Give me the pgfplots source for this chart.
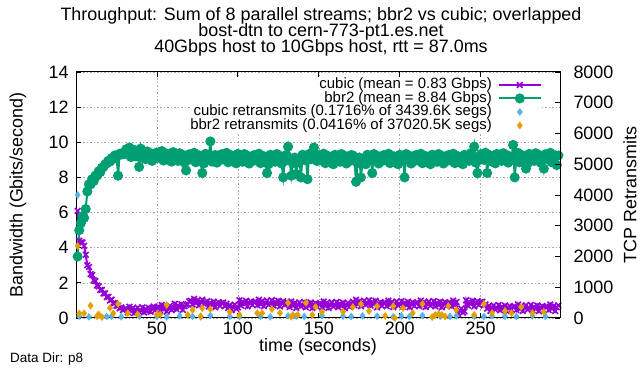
\documentclass[border=0pt]{standalone}
\usepackage{fontspec}
\setmainfont{Liberation Sans}
\usepackage{pgfplots}
\pgfplotsset{compat=1.18}
\definecolor{cubicc}{RGB}{148,0,211}
\definecolor{bbrc}{RGB}{0,158,115}
\definecolor{cretc}{RGB}{86,180,233}
\definecolor{bretc}{RGB}{230,159,0}
\begin{document}
\begin{tikzpicture}
\useasboundingbox (0,0) rectangle (641bp,371bp);
\begin{axis}[
  at={(76bp,53bp)}, anchor=south west, scale only axis,
  width=484bp, height=246bp,
  xmin=0, xmax=299, ymin=0, ymax=14,
  xtick={50,100,150,200,250}, ytick={0,2,4,6,8,10,12,14},
  xtick pos=both, xticklabel pos=lower, ytick pos=left,
  grid=major,
  grid style={gray!70, line width=0.6bp, dash pattern=on 1.5bp off 2bp},
  axis line style={line width=1bp},
  tick style={black, line width=0.8bp}, major tick length=5bp,
  ticklabel style={font=\fontsize{18}{18}\selectfont},
  yticklabel style={xshift=-4bp},
  /pgf/number format/assume math mode=true,
  clip=false,
  legend cell align=right, legend plot pos=right,
  legend image code/.code={\draw[mark repeat=2,mark phase=2,#1] plot coordinates {(0bp,0bp) (21bp,0bp) (42bp,0bp)};},
  legend style={at={(1,1)}, anchor=north east, xshift=-18bp, yshift=-6bp,
    draw=none, fill=white, inner sep=0pt, column sep=6bp, row sep=0pt,
    font=\fontsize{15}{15}\selectfont,
    nodes={inner sep=0pt, text height=10.5bp, text depth=3bp}},
]
\addplot[color=cubicc, line width=2bp, mark=x, mark size=4bp, mark options={line width=1.6bp}] coordinates {
(1,6.1)(2,4.4)(3,4.3)(4,4.3)(5,4.1)(6,3.6)(7,3.0)(8,2.9)(9,2.5)(10,2.45)(11,2.15)(12,2.1)(13,1.85)(14,1.8)(15,1.6)(16,1.6)(17,1.4)(18,1.4)(19,1.2)(20,1.2)
(21,1.0)(22,1.05)(23,0.85)(24,0.85)(25,0.7)(26,0.7)(27,0.55)(28,0.6)(29,0.45)(30,0.5)
(31,0.53)(32,0.32)(33,0.64)(34,0.40)(35,0.56)(36,0.27)(37,0.48)(38,0.59)(39,0.35)(40,0.43)
(41,0.61)(42,0.31)(43,0.51)(44,0.39)(45,0.58)(46,0.36)(47,0.57)(48,0.65)(49,0.44)(50,0.60)
(51,0.63)(52,0.42)(53,0.74)(54,0.50)(55,0.66)(56,0.37)(57,0.58)(58,0.69)(59,0.45)(60,0.53)
(61,0.81)(62,0.51)(63,0.71)(64,0.59)(65,0.78)(66,0.46)(67,0.67)(68,0.75)(69,0.79)(70,0.95)
(71,0.98)(72,0.77)(73,1.09)(74,0.85)(75,1.01)(76,0.72)(77,0.93)(78,1.04)(79,0.80)(80,0.88)
(81,0.96)(82,0.66)(83,0.86)(84,0.74)(85,0.93)(86,0.61)(87,0.82)(88,0.90)(89,0.69)(90,0.85)
(91,0.88)(92,0.67)(93,0.81)(94,0.57)(95,0.73)(96,0.44)(97,0.65)(98,0.76)(99,0.52)(100,0.60)
(101,1.01)(102,0.71)(103,0.91)(104,0.79)(105,0.98)(106,0.66)(107,0.87)(108,0.95)(109,0.74)(110,0.90)
(111,0.93)(112,0.72)(113,1.04)(114,0.80)(115,0.96)(116,0.67)(117,0.88)(118,0.99)(119,0.75)(120,0.83)
(121,1.01)(122,0.71)(123,0.91)(124,0.79)(125,0.98)(126,0.66)(127,0.87)(128,0.95)(129,0.74)(130,0.90)
(131,0.83)(132,0.62)(133,0.94)(134,0.70)(135,0.86)(136,0.57)(137,0.78)(138,0.89)(139,0.65)(140,0.73)
(141,0.91)(142,0.61)(143,0.81)(144,0.69)(145,0.88)(146,0.56)(147,0.77)(148,0.85)(149,0.64)(150,0.80)
(151,0.83)(152,0.62)(153,0.94)(154,0.70)(155,0.86)(156,0.57)(157,0.78)(158,0.89)(159,0.65)(160,0.73)
(161,0.91)(162,0.61)(163,0.81)(164,0.69)(165,0.88)(166,0.56)(167,0.77)(168,0.85)(169,0.64)(170,0.80)
(171,0.93)(172,0.72)(173,1.04)(174,0.80)(175,0.96)(176,0.67)(177,0.88)(178,0.99)(179,0.75)(180,0.83)
(181,1.01)(182,0.71)(183,0.91)(184,0.79)(185,0.98)(186,0.61)(187,0.82)(188,0.90)(189,0.69)(190,0.85)
(191,0.88)(192,0.67)(193,0.99)(194,0.75)(195,0.91)(196,0.62)(197,0.83)(198,0.94)(199,0.70)(200,0.78)
(201,0.96)(202,0.66)(203,0.86)(204,0.74)(205,0.93)(206,0.61)(207,0.82)(208,0.90)(209,0.69)(210,0.85)
(211,0.88)(212,0.67)(213,0.99)(214,0.75)(215,0.91)(216,0.62)(217,0.83)(218,0.94)(219,0.70)(220,0.78)
(221,0.96)(222,0.66)(223,0.86)(224,0.74)(225,0.93)(226,0.61)(227,0.82)(228,0.90)(229,0.69)(230,0.85)
(231,0.88)(232,0.67)(233,0.99)(234,0.75)(235,0.91)(236,0.22)(237,0.43)(238,0.54)(239,0.30)(240,0.38)
(241,1.01)(242,0.71)(243,0.91)(244,0.79)(245,0.98)(246,0.66)(247,0.87)(248,0.95)(249,0.74)(250,0.90)
(251,0.93)(252,0.72)(253,0.77)(254,0.53)(255,0.69)(256,0.40)(257,0.61)(258,0.72)(259,0.48)(260,0.56)
(261,0.74)(262,0.44)(263,0.64)(264,0.52)(265,0.71)(266,0.39)(267,0.60)(268,0.68)(269,0.47)(270,0.63)
(271,0.66)(272,0.45)(273,0.77)(274,0.53)(275,0.69)(276,0.40)(277,0.61)(278,0.72)(279,0.48)(280,0.56)
(281,0.74)(282,0.44)(283,0.64)(284,0.52)(285,0.71)(286,0.39)(287,0.60)(288,0.68)(289,0.47)(290,0.63)
(291,0.66)(292,0.45)(293,0.77)(294,0.53)(295,0.69)(296,0.40)(297,0.61)(298,0.72)
};
\addlegendentry{cubic (mean = 0.83 Gbps)}
\addplot[color=bbrc, line width=2bp, mark=*, mark size=4bp] coordinates {
(1,3.5)(2,5.0)(3,5.4)(4,5.8)(5,5.7)(6,6.2)(7,7.2)(8,7.6)(9,7.6)(10,7.9)(11,7.8)(12,8.1)(13,8.1)(14,8.35)(15,8.3)(16,8.55)(17,8.6)(18,8.75)(19,8.8)(20,8.95)
(21,8.9)(22,9.1)(23,9.05)(24,9.25)(25,9.2)(26,8.1)(27,9.35)(28,9.3)(29,9.4)(30,9.35)
(31,9.60)(32,9.30)(33,9.70)(34,9.16)(35,9.48)(36,9.56)(37,9.20)(38,9.44)(39,8.6)(40,9.64)
(41,9.14)(42,9.32)(43,9.04)(44,9.48)(45,9.18)(46,9.38)(47,8.94)(48,9.30)(49,9.08)(50,9.42)
(51,9.40)(52,9.10)(53,9.50)(54,8.96)(55,9.28)(56,9.36)(57,9.00)(58,9.24)(59,8.90)(60,9.44)
(61,9.04)(62,9.22)(63,8.94)(64,9.38)(65,9.08)(66,9.28)(67,8.84)(68,8.4)(69,8.98)(70,9.32)
(71,9.30)(72,9.00)(73,9.40)(74,8.86)(75,9.18)(76,9.26)(77,8.90)(78,8.25)(79,8.80)(80,9.34)
(81,9.04)(82,9.22)(83,10.05)(84,8.9)(85,9.08)(86,9.28)(87,8.84)(88,9.20)(89,8.98)(90,9.32)
(91,9.30)(92,9.00)(93,9.40)(94,8.86)(95,9.18)(96,9.26)(97,8.90)(98,9.14)(99,8.80)(100,9.34)
(101,8.99)(102,9.17)(103,8.89)(104,9.33)(105,9.03)(106,9.23)(107,8.79)(108,9.15)(109,8.93)(110,9.27)
(111,9.25)(112,8.95)(113,9.35)(114,8.81)(115,9.13)(116,9.21)(117,8.85)(118,8.25)(119,8.75)(120,9.29)
(121,8.99)(122,9.17)(123,8.89)(124,9.33)(125,9.03)(126,9.23)(127,8.79)(128,8.0)(129,8.93)(130,9.27)
(131,9.75)(132,8.95)(133,8.1)(134,8.81)(135,9.13)(136,8.2)(137,8.85)(138,9.09)(139,8.0)(140,9.29)
(141,8.99)(142,9.17)(143,7.9)(144,9.33)(145,9.03)(146,9.23)(147,9.7)(148,9.15)(149,8.93)(150,9.27)
(151,9.25)(152,8.95)(153,9.35)(154,8.81)(155,9.13)(156,9.21)(157,8.85)(158,9.09)(159,8.75)(160,9.29)
(161,8.99)(162,9.17)(163,8.89)(164,9.33)(165,9.03)(166,9.23)(167,8.79)(168,9.15)(169,8.93)(170,9.27)
(171,9.25)(172,8.95)(173,7.75)(174,8.81)(175,9.13)(176,8.0)(177,8.85)(178,9.09)(179,8.75)(180,9.29)
(181,8.99)(182,9.17)(183,8.25)(184,9.33)(185,9.03)(186,9.23)(187,8.79)(188,9.15)(189,8.93)(190,9.27)
(191,9.25)(192,8.95)(193,9.35)(194,8.81)(195,9.13)(196,9.21)(197,8.85)(198,9.09)(199,8.75)(200,9.29)
(201,8.99)(202,9.17)(203,8.0)(204,9.33)(205,9.03)(206,9.23)(207,8.79)(208,9.15)(209,8.93)(210,9.27)
(211,9.25)(212,8.95)(213,9.35)(214,8.81)(215,9.13)(216,9.21)(217,8.85)(218,9.09)(219,8.75)(220,9.29)
(221,8.99)(222,9.17)(223,8.89)(224,9.33)(225,9.03)(226,9.23)(227,8.79)(228,9.15)(229,8.93)(230,9.27)
(231,9.25)(232,8.95)(233,9.35)(234,8.81)(235,9.13)(236,9.21)(237,8.85)(238,9.09)(239,8.75)(240,9.29)
(241,9.04)(242,9.22)(243,8.94)(244,9.38)(245,9.08)(246,9.75)(247,8.84)(248,8.25)(249,8.98)(250,9.32)
(251,9.30)(252,9.00)(253,9.40)(254,8.25)(255,9.18)(256,9.26)(257,8.90)(258,9.14)(259,8.80)(260,9.34)
(261,9.04)(262,9.22)(263,8.94)(264,9.38)(265,9.08)(266,9.28)(267,8.84)(268,9.20)(269,8.98)(270,9.85)
(271,8.0)(272,9.00)(273,9.40)(274,8.86)(275,9.18)(276,9.26)(277,8.90)(278,8.5)(279,8.80)(280,9.34)
(281,9.04)(282,9.22)(283,8.94)(284,9.38)(285,9.08)(286,9.28)(287,8.84)(288,9.20)(289,8.5)(290,9.32)
(291,9.30)(292,9.00)(293,9.40)(294,8.86)(295,9.18)(296,9.26)(297,8.7)(298,9.25)
};
\addlegendentry{bbr2 (mean = 8.84 Gbps)}
\addlegendimage{only marks, color=cretc, mark=diamond*, mark size=3.5bp}
\addlegendentry{cubic retransmits (0.1716\% of 3439.6K segs)}
\addlegendimage{only marks, color=bretc, mark=diamond*, mark size=3.5bp}
\addlegendentry{bbr2 retransmits (0.0416\% of 37020.5K segs)}
\end{axis}
\begin{axis}[
  at={(76bp,53bp)}, anchor=south west, scale only axis,
  width=484bp, height=246bp,
  xmin=0, xmax=299, ymin=0, ymax=8000,
  hide x axis, axis y line*=right,
  ytick={0,1000,...,8000}, ytick pos=right,
  scaled y ticks=false,
  axis line style={line width=1bp},
  tick style={black, line width=0.8bp}, major tick length=5bp,
  ticklabel style={font=\fontsize{18}{18}\selectfont},
  yticklabel style={xshift=10bp},
  /pgf/number format/assume math mode=true,
  /pgf/number format/1000 sep={},
  clip=false,
]
\addplot[only marks, color=cretc, mark=diamond*, mark size=3.5bp] coordinates {
(1,4000)(2,60)(8,40)(19,50)(22,60)(28,40)(39,60)(50,50)(56,40)(64,70)(72,50)(77,40)(83,80)(95,60)(101,50)
(114,60)(120,40)(131,70)(136,60)(141,50)(152,80)(165,60)(170,50)(177,70)(186,60)(196,40)(201,70)(206,50)
(214,80)(225,60)(231,50)(235,70)(246,60)(252,50)(257,70)(265,60)(272,50)(282,70)(290,50)
};
\addplot[only marks, color=bretc, mark=diamond*, mark size=3.5bp] coordinates {
(1,2340)(2,150)(5,150)(9,400)(13,60)(14,120)(16,30)(21,325)(23,150)(26,455)(32,160)(38,120)(50,120)(52,120)
(56,420)(69,100)(72,260)(77,60)(78,320)(83,290)(95,200)(101,100)(112,160)(115,160)(121,290)(126,160)
(131,490)(133,40)(134,100)(137,100)(142,490)(146,100)(148,360)(152,200)(165,200)(171,360)(176,455)
(181,230)(186,390)(191,65)(196,390)(197,0)(202,320)(208,160)(214,455)(220,30)(222,100)(224,130)(226,100)
(228,50)(230,390)(235,260)(246,100)(252,455)(257,160)(265,230)(269,160)(275,360)(282,160)(289,200)
};
\end{axis}
\node[font=\fontsize{18}{18}\selectfont, anchor=base] at (321bp,350bp) {Throughput: Sum of 8 parallel streams; bbr2 vs cubic; overlapped};
\node[font=\fontsize{18}{18}\selectfont, anchor=base] at (321bp,334bp) {bost-dtn to cern-773-pt1.es.net};
\node[font=\fontsize{18}{18}\selectfont, anchor=base] at (321bp,318bp) {40Gbps host to 10Gbps host, rtt = 87.0ms};
\node[font=\fontsize{18}{18}\selectfont, anchor=base] at (318bp,20bp) {time (seconds)};
\node[font=\fontsize{18}{18}\selectfont, rotate=90] at (18bp,176bp) {Bandwidth (Gbits/second)};
\node[font=\fontsize{18}{18}\selectfont, rotate=90] at (630bp,176bp) {TCP Retransmits};
\node[font=\fontsize{13.5}{13.5}\selectfont, anchor=base west, inner sep=0pt] at (10bp,9bp) {Data Dir: p8};
\end{tikzpicture}
\end{document}
